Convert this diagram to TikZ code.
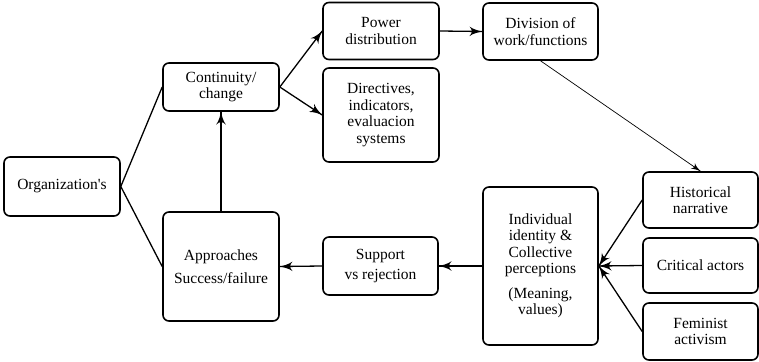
\documentclass[tikz,border=0pt]{standalone}
\usepackage{fontspec}
\setmainfont{Liberation Serif}
\usetikzlibrary{arrows}
\usetikzlibrary{decorations.markings}
\usetikzlibrary{positioning}
\tikzset{tip/.style = {decoration={markings,
                                  mark=at position 1 with {\arrow[scale=1.9]{latex'}}},
                      postaction={decorate}}}
\tikzset{box/.style = {draw, line width=1.6pt, rounded corners=6pt, align=center,
                       font=\fontsize{15.5}{16.5}\selectfont, inner sep=1pt}}

\begin{document}
\begin{tikzpicture}[x=1pt, y=-1pt, line width=1.3pt]
      \useasboundingbox (0, 0) rectangle (759, 361);
      \node [box, minimum width=116, minimum height=59] (org) at (62, 186.5) {Organization\textquotesingle s};
      \node [box, minimum width=116, minimum height=48] (cont) at (221, 87) {Continuity/\\change};
      \node [box, minimum width=116, minimum height=57] (power) at (381, 31) {Power\\distribution};
      \node [box, minimum width=116, minimum height=94] (direct) at (381, 115) {Directives,\\indicators,\\evaluacion\\systems};
      \node [box, minimum width=115, minimum height=57] (div) at (540.5, 31.5) {Division of\\work/functions};
      \node [box, minimum width=115, minimum height=56] (hist) at (700.5, 200) {Historical\\narrative};
      \node [box, minimum width=115, minimum height=55] (crit) at (700.5, 265.5) {Critical actors};
      \node [box, minimum width=115, minimum height=57] (fem) at (700.5, 331.5) {Feminist\\activism};
      \node [box, minimum width=115, minimum height=158] (indiv) at (540.5, 266) {Individual\\identity \&\\Collective\\perceptions\\[8pt](Meaning,\\values)};
      \node [box, minimum width=115, minimum height=58] (supp) at (380.5, 266) {Support\\[4pt]vs rejection};
      \node [box, minimum width=116, minimum height=109] (appr) at (221, 266.5) {Approaches\\[6pt]Success/failure};
      \draw (org.east) -- (cont.west);
      \draw (org.east) -- (appr.west);
      \draw [tip] (appr.north) -- (cont.south);
      \draw [tip] (cont.east) -- (power.west);
      \draw [tip] (cont.east) -- (direct.west);
      \draw [tip] (power.east) -- (div.west);
      \draw [tip, line width=0.7pt] (div.south) -- (hist.north);
      \draw [tip] (hist.west) -- (indiv.east);
      \draw [tip] (crit.west) -- (indiv.east);
      \draw [tip] (fem.west) -- (indiv.east);
      \draw [tip] (indiv.west) -- (supp.east);
      \draw [tip] (supp.west) -- (appr.east);
    \end{tikzpicture}
\end{document}
